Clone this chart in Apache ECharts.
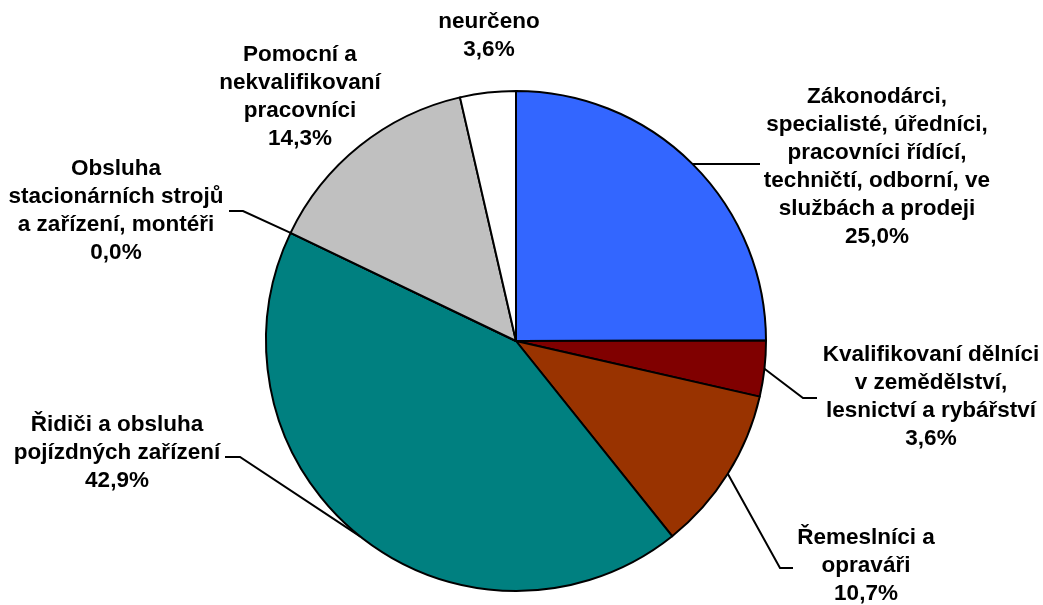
<!DOCTYPE html>
<html>
<head>
<meta charset="utf-8">
<script src="https://cdn.jsdelivr.net/npm/echarts@6/dist/echarts.min.js"></script>
<style>
html,body{margin:0;padding:0;background:#fff;}
#c{width:1043px;height:605px;}
</style>
</head>
<body>
<div id="c"></div>
<script>
// ---- data ----
const categories = [
  "Zákonodárci,\nspecialisté, úředníci,\npracovníci řídící,\ntechničtí, odborní, ve\nslužbách a prodeji",
  "Kvalifikovaní dělníci\nv zemědělství,\nlesnictví a rybářství",
  "Řemeslníci a\nopraváři",
  "Řidiči a obsluha\npojízdných zařízení",
  "Obsluha\nstacionárních strojů\na zařízení, montéři",
  "Pomocní a\nnekvalifikovaní\npracovníci",
  "neurčeno"
];
const values = [25.0, 3.6, 10.7, 42.9, 0.0, 14.3, 3.6];
const colors = ["#3366FF", "#800000", "#993300", "#008080", "#FFFFFF", "#C0C0C0", "#FFFFFF"];

// ---- layout (label placement, not data) ----
const labelPos = [
  {x: 877, y: 83,  line: [[760, null]]},
  {x: 931, y: 341, line: [[803, 398], [817, 398]]},
  {x: 866, y: 524, line: [[780, 568], [793, 568]]},
  {x: 117, y: 411, line: [[240, 457], [225, 457]]},
  {x: 116, y: 155, line: [[243, 211], [229, 211]]},
  {x: 300, y: 41,  line: null},
  {x: 489, y: 8,   line: null}
];

const chart = echarts.init(document.getElementById('c'), null, {renderer: 'canvas'});
const fmt = v => v.toFixed(1).replace('.', ',') + '%';

chart.setOption({
  backgroundColor: '#ffffff',
  animation: false,
  series: [{
    type: 'pie',
    center: [516, 341],
    radius: 250,
    startAngle: 90,
    clockwise: true,
    avoidLabelOverlap: false,
    data: categories.map((name, i) => ({
      name: name,
      value: values[i],
      itemStyle: {color: colors[i]},
      labelLine: {show: labelPos[i].line !== null}
    })),
    itemStyle: {borderColor: '#000', borderWidth: 2},
    label: {
      show: true,
      position: 'outside',
      formatter: p => p.name + '\n' + fmt(p.value),
      color: '#000',
      fontFamily: 'Liberation Sans, Arial, sans-serif',
      fontWeight: 'bold',
      fontSize: 22.5,
      lineHeight: 28,
      align: 'center'
    },
    labelLine: {show: true, lineStyle: {color: '#000', width: 2}, length: 20, length2: 10},
    emphasis: {disabled: true},
    labelLayout: function (params) {
      const lp = labelPos[params.dataIndex];
      const out = {x: lp.x, y: lp.y, align: 'center', verticalAlign: 'top'};
      if (lp.line && params.labelLinePoints) {
        const start = params.labelLinePoints[0];
        const pts = [start];
        lp.line.forEach(pt => pts.push([pt[0], pt[1] == null ? start[1] : pt[1]]));
        out.labelLinePoints = pts;
      }
      return out;
    }
  }]
});
</script>
</body>
</html>
